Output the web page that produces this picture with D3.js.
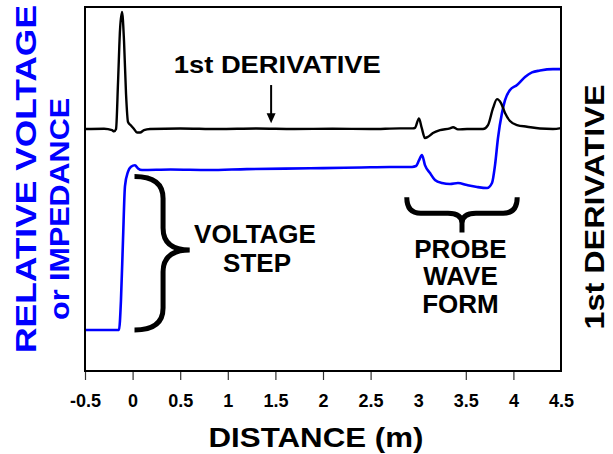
<!DOCTYPE html>
<html>
<head>
<meta charset="utf-8">
<script src="https://cdn.jsdelivr.net/npm/d3@7"></script>
<style>
  body { margin: 0; background: white; }
  text { font-family: "Liberation Sans", Arial, sans-serif; font-weight: bold; }
</style>
</head>
<body>
<div id="chart"></div>
<script>
// distance (m) and relative voltage, blue trace
var distV = [-0.5, -0.143, -0.122, -0.101, -0.08, -0.048, -0.017, 0.025, 0.057, 0.099,
  0.4, 0.8, 1.2, 1.6, 2.0, 2.4, 2.7, 2.935, 2.977, 3.008, 3.04, 3.071, 3.124, 3.176,
  3.25, 3.334, 3.418, 3.513, 3.618, 3.723, 3.775, 3.807, 3.838, 3.88, 3.912, 3.964,
  4.038, 4.122, 4.195, 4.279, 4.416, 4.5];
var voltage = [0, 0, 0.19, 0.56, 0.9, 0.99, 1.02, 1.03, 1.01, 1.0,
  1.003, 1.0, 1.006, 1.009, 1.012, 1.016, 1.019, 1.019, 1.025, 1.06, 1.094, 1.031, 0.981, 0.9375,
  0.919, 0.9125, 0.919, 0.906, 0.894, 0.8875, 0.919, 1.031, 1.2, 1.356, 1.4375, 1.5,
  1.531, 1.581, 1.61, 1.622, 1.631, 1.631];

// distance (m) and 1st derivative, black trace
var distD = [-0.5, -0.3, -0.216, -0.195, -0.174, -0.153, -0.132, -0.111, -0.09, -0.069,
  -0.048, -0.017, 0.015, 0.046, 0.078, 0.12, 0.183, 0.5, 0.9, 1.3, 1.7, 2.1, 2.5, 2.809,
  2.945, 2.966, 3.008, 3.037, 3.071, 3.103, 3.155, 3.229, 3.334, 3.366, 3.418, 3.513,
  3.681, 3.733, 3.786, 3.828, 3.87, 3.912, 3.964, 4.038, 4.143, 4.279, 4.416, 4.5];
var deriv = [0, 0.003, -0.01, -0.02, 0, 0.4, 0.85, 1.0, 0.75, 0.3,
  0.06, 0.03, 0, -0.03, -0.03, -0.01, 0, 0.005, 0, 0.004, 0, 0.003, 0, 0.006,
  0.006, 0.01, 0.091, 0.01, -0.077, -0.066, -0.034, -0.009, 0.006, 0.015, -0.003, 0,
  0, 0.034, 0.179, 0.256, 0.222, 0.137, 0.068, 0.034, 0.02, 0.004, 0, 0.008];

// x axis ticks (the original has no tick mark at 3 or 4.5)
var tickLabels = [-0.5, 0, 0.5, 1, 1.5, 2, 2.5, 3, 3.5, 4, 4.5];
var tickMarks = [-0.5, 0, 0.5, 1, 1.5, 2, 2.5, 3.5, 4];

var probeLines = ["PROBE", "WAVE", "FORM"];
var stepLines = ["VOLTAGE", "STEP"];

var w = 613;
var h = 454;
var margin = { top: 7, right: 52, bottom: 83, left: 85 };
var innerWidth = w - margin.left - margin.right;
var innerHeight = h - margin.top - margin.bottom;

var svg = d3.select("#chart")
  .append("svg")
  .attr("width", w)
  .attr("height", h);

var g = svg.append("g")
  .attr("transform", "translate(" + margin.left + "," + margin.top + ")");

var xScale = d3.scaleLinear().domain([-0.5, 4.5]).range([0, innerWidth]);
// voltage: 0 at the step foot, 1 at the step top
var yV = d3.scaleLinear().domain([-0.256, 2.019]).range([innerHeight, 0]);
// derivative: 0 baseline, 1 first spike
var yD = d3.scaleLinear().domain([-2.068, 1.043]).range([innerHeight, 0]);

// tick marks
g.append("g")
  .attr("transform", "translate(0," + innerHeight + ")")
  .call(d3.axisBottom(xScale).tickValues(tickMarks).tickSize(9).tickFormat(""))
  .call(function(a) { a.select(".domain").remove(); })
  .selectAll("line")
  .attr("stroke", "#333")
  .attr("stroke-width", 1.2);

// tick labels
g.append("g")
  .attr("transform", "translate(0," + innerHeight + ")")
  .attr("font-size", 18)
  .attr("font-family", "'Liberation Sans', Arial, sans-serif")
  .attr("font-weight", "bold")
  .call(d3.axisBottom(xScale).tickValues(tickLabels).tickSize(0).tickPadding(36)
    .tickFormat(function(d) { return String(d); }))
  .call(function(a) { a.select(".domain").remove(); })
  .selectAll("text")
  .attr("dy", 0)
  .style("font-size", "18px")
  .attr("fill", "black");

// lines
var lineV = d3.line()
  .x(function(d) { return xScale(d[0]); })
  .y(function(d) { return yV(d[1]); })
  .curve(d3.curveMonotoneX);

var lineD = d3.line()
  .x(function(d) { return xScale(d[0]); })
  .y(function(d) { return yD(d[1]); })
  .curve(d3.curveMonotoneX);

g.append("path")
  .datum(d3.zip(distV, voltage))
  .attr("d", lineV)
  .style("fill", "none")
  .style("stroke", "#0000ff")
  .style("stroke-width", 2.6);

g.append("path")
  .datum(d3.zip(distD, deriv))
  .attr("d", lineD)
  .style("fill", "none")
  .style("stroke", "black")
  .style("stroke-width", 2.4);

// frame
g.append("rect")
  .attr("width", innerWidth)
  .attr("height", innerHeight)
  .style("fill", "none")
  .style("stroke", "black")
  .style("stroke-width", 2);

// 1st derivative note + arrow
g.append("text")
  .attr("x", xScale(1.52))
  .attr("y", yD(0.48))
  .attr("text-anchor", "middle")
  .attr("textLength", 207)
  .attr("lengthAdjust", "spacingAndGlyphs")
  .style("font-size", "24px")
  .text("1st DERIVATIVE");

var ax = xScale(1.455);
var ay0 = yD(0.376);
var ay1 = yD(0.05);
g.append("line")
  .attr("x1", ax).attr("x2", ax)
  .attr("y1", ay0).attr("y2", ay1 - 8)
  .style("stroke", "black")
  .style("stroke-width", 2);
g.append("path")
  .attr("d", "M" + (ax - 4.5) + "," + (ay1 - 10) + "L" + (ax + 4.5) + "," + (ay1 - 10) + "L" + ax + "," + ay1 + "Z")
  .style("fill", "black");

// voltage step brace
var bx0 = xScale(0.02), bxs = xScale(0.32), bxt = xScale(0.6);
var byt = yV(0.96), bym = yV(0.5), byb = yV(0);
var r = 22;
g.append("path")
  .attr("d", "M" + bx0 + "," + byt +
    "Q" + bxs + "," + byt + " " + bxs + "," + (byt + r) +
    "L" + bxs + "," + (bym - r) +
    "Q" + bxs + "," + bym + " " + bxt + "," + bym +
    "Q" + bxs + "," + bym + " " + bxs + "," + (bym + r) +
    "L" + bxs + "," + (byb - r) +
    "Q" + bxs + "," + byb + " " + bx0 + "," + byb)
  .style("fill", "none")
  .style("stroke", "black")
  .style("stroke-width", 5);

g.selectAll(".step")
  .data(stepLines)
  .enter()
  .append("text")
  .attr("x", function(d, i) { return xScale(i ? 1.307 : 1.286); })
  .attr("y", function(d, i) { return yV(i ? 0.3625 : 0.544); })
  .attr("text-anchor", "middle")
  .style("font-size", "26px")
  .text(function(d) { return d; });

// probe wave form brace
var px0 = xScale(2.88), pxm = xScale(3.46), px1 = xScale(4.04);
var pyt = yV(0.83), pyh = yV(0.73), pyb = yV(0.61);
var q = 14;
g.append("path")
  .attr("d", "M" + px0 + "," + pyt +
    "Q" + px0 + "," + pyh + " " + (px0 + q) + "," + pyh +
    "L" + (pxm - q) + "," + pyh +
    "Q" + pxm + "," + pyh + " " + pxm + "," + (pyh + 10) +
    "L" + pxm + "," + pyb +
    "M" + pxm + "," + (pyh + 10) +
    "Q" + pxm + "," + pyh + " " + (pxm + q) + "," + pyh +
    "L" + (px1 - q) + "," + pyh +
    "Q" + px1 + "," + pyh + " " + px1 + "," + pyt)
  .style("fill", "none")
  .style("stroke", "black")
  .style("stroke-width", 5);

g.selectAll(".probe")
  .data(probeLines)
  .enter()
  .append("text")
  .attr("x", xScale(3.444))
  .attr("y", function(d, i) { return yV([0.45, 0.281, 0.106][i]); })
  .attr("text-anchor", "middle")
  .style("font-size", "26px")
  .text(function(d) { return d; });

// x axis title
svg.append("text")
  .attr("x", 316)
  .attr("y", 447)
  .attr("text-anchor", "middle")
  .attr("textLength", 215)
  .attr("lengthAdjust", "spacingAndGlyphs")
  .style("font-size", "28px")
  .text("DISTANCE (m)");

// left y title, two lines
svg.append("text")
  .attr("transform", "translate(36,179)rotate(-90)")
  .attr("text-anchor", "middle")
  .attr("textLength", 348)
  .attr("lengthAdjust", "spacingAndGlyphs")
  .attr("fill", "#0000ff")
  .style("font-size", "30px")
  .text("RELATIVE VOLTAGE");

svg.append("text")
  .attr("transform", "translate(69,209)rotate(-90)")
  .attr("text-anchor", "middle")
  .attr("textLength", 222)
  .attr("lengthAdjust", "spacingAndGlyphs")
  .attr("fill", "#0000ff")
  .style("font-size", "27px")
  .text("or IMPEDANCE");

// right y title
svg.append("text")
  .attr("transform", "translate(604,207)rotate(-90)")
  .attr("text-anchor", "middle")
  .attr("textLength", 245)
  .attr("lengthAdjust", "spacingAndGlyphs")
  .attr("fill", "black")
  .style("font-size", "28px")
  .text("1st DERIVATIVE");
</script>
</body>
</html>
